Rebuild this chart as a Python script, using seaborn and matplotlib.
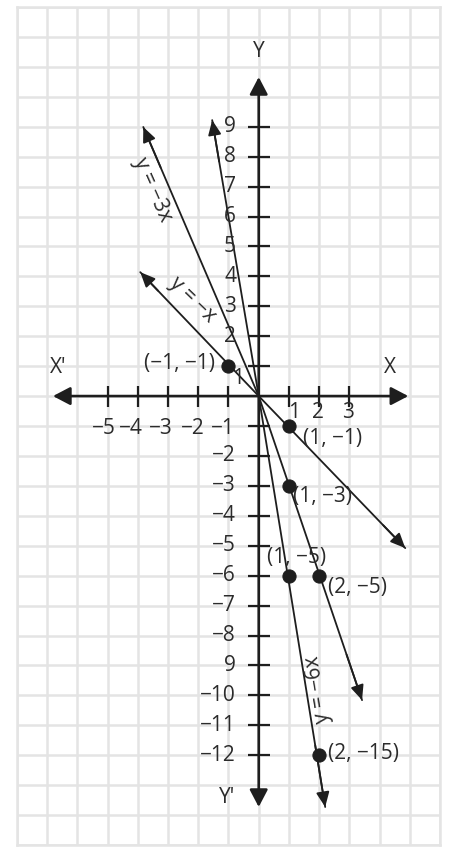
import matplotlib
matplotlib.use("Agg")
import matplotlib.pyplot as plt
import seaborn as sns
import pandas as pd

sns.set_theme(style="white")
plt.rcParams['font.family'] = ['Open Sans', 'DejaVu Sans']

# ---- data ----
line_labels = ["y = −x", "y = −3x", "y = −6x"]
negx_x = [-3.92, 0, 4.85]
negx_y = [4.14, 0, -5.08]
neg3x_x = [-3.82, 0, 3.42]
neg3x_y = [8.99, 0, -10.16]
neg6x_x = [-1.54, 0, 2.2]
neg6x_y = [9.22, 0, -13.73]

dot_x = [-1, 1, 1, 2, 1, 2]
dot_y = [1, -1, -3, -6, -6, -12]
dot_labels = ["(−1, −1)", "(1, −1)", "(1, −3)", "(2, −5)", "(1, −5)", "(2, −15)"]
dot_label_x = [-1.45, 1.47, 1.14, 2.3, 0.28, 2.3]
dot_label_y = [1.1, -1.42, -3.37, -6.4, -5.4, -11.93]
dot_label_ha = ["right", "left", "left", "left", "left", "left"]

xtick_vals = [-5, -4, -3, -2, -1, 1, 2, 3]
xtick_labels_neg = ["−5", "−4", "−3", "−2", "−1"]
xtick_labels_neg_x = [-5.13, -4.23, -3.23, -2.17, -1.17]
xtick_labels_pos = ["1", "2", "3"]
xtick_labels_pos_x = [1.17, 1.97, 2.97]

ytick_vals = [v for v in range(-12, 10) if v != 0]
ytick_labels = {9: "9", 8: "8", 7: "7", 6: "6", 5: "5", 4: "4", 3: "3", 2: "2",
                -2: "−2", -3: "−3", -4: "−4", -5: "−5", -6: "−6", -7: "−7",
                -8: "−8", -9: "9", -10: "−10", -11: "−11", -12: "−12"}

x_axis_ends = [-6.81, 4.95]
y_axis_ends = [-13.73, 10.66]

# ---- figure ----
fig = plt.figure(figsize=(4.56, 8.56), dpi=100)
ax = fig.add_axes([17 / 456, 1 - 845 / 856, (440 - 17) / 456, (845 - 7) / 856])
ax.set_xlim(-8, 6)
ax.set_ylim(-15, 13)
ax.set_xticks(range(-8, 7))
ax.set_yticks(range(-15, 14))
ax.tick_params(length=0, labelbottom=False, labelleft=False)
ax.grid(True, color="#e4e4e4", linewidth=1.8)
for s in ax.spines.values():
    s.set_color("#e4e4e4")
    s.set_linewidth(1.8)
ax.set_axisbelow(True)

ink = "#1e1e1e"
txt = "#2b2b2b"

# axes with arrows
for xy, xytext in [((x_axis_ends[1], 0), (x_axis_ends[0], 0)),
                   ((0, y_axis_ends[1]), (0, y_axis_ends[0]))]:
    ax.annotate("", xy=xy, xytext=xytext,
                arrowprops=dict(arrowstyle="<|-|>,head_length=0.42,head_width=0.22",
                                mutation_scale=25, color=ink, lw=1.9,
                                shrinkA=0, shrinkB=0))

# ticks
ax.hlines(ytick_vals, -0.36, 0.36, color=ink, lw=1.6)
ax.vlines(xtick_vals, -0.35, 0.35, color=ink, lw=1.6)

# lines
for xs, ys in [(negx_x, negx_y), (neg3x_x, neg3x_y), (neg6x_x, neg6x_y)]:
    df = pd.DataFrame({"x": xs, "y": ys})
    sns.lineplot(data=df, x="x", y="y", sort=False, color=ink, lw=1.3,
                 ax=ax, estimator=None)
    for i_tip, i_prev in [(0, 1), (2, 1)]:
        tx, ty = xs[i_tip], ys[i_tip]
        px, py = xs[i_prev], ys[i_prev]
        f = 0.15
        ax.annotate("", xy=(tx, ty), xytext=(tx + (px - tx) * f, ty + (py - ty) * f),
                    arrowprops=dict(arrowstyle="-|>,head_length=0.45,head_width=0.2",
                                    mutation_scale=20, color=ink, lw=1.3,
                                    shrinkA=0, shrinkB=0))

ax.set_xlabel("")
ax.set_ylabel("")

# dots
sns.scatterplot(x=dot_x, y=dot_y, color=ink, s=90, edgecolor=ink, zorder=5, ax=ax)

fs = 15
for t, x, y, ha in zip(dot_labels, dot_label_x, dot_label_y, dot_label_ha):
    ax.text(x, y, t, ha=ha, va="center", fontsize=fs, color=txt)

# tick labels
for t, x in zip(xtick_labels_neg, xtick_labels_neg_x):
    ax.text(x, -1.07, t, ha="center", va="center", fontsize=fs, color=txt)
for t, x in zip(xtick_labels_pos, xtick_labels_pos_x):
    ax.text(x, -0.56, t, ha="center", va="center", fontsize=fs, color=txt)
for v, t in ytick_labels.items():
    ax.text(-0.75, v, t, ha="right", va="center", fontsize=fs, color=txt)
ax.text(-0.5, 0.6, "1", ha="right", va="center", fontsize=fs, color=txt)

# axis names
ax.text(0, 11.5, "Y", ha="center", va="center", fontsize=fs, color=txt)
ax.text(-1.05, -13.4, "Y'", ha="center", va="center", fontsize=fs, color=txt)
ax.text(-6.64, 0.97, "X'", ha="center", va="center", fontsize=fs, color=txt)
ax.text(4.35, 0.97, "X", ha="center", va="center", fontsize=fs, color=txt)

# line labels
ax.text(-2.2, 3.2, line_labels[0], rotation=-44, ha="center", va="center",
        fontsize=fs, color=txt, rotation_mode="anchor")
ax.text(-3.53, 6.88, line_labels[1], rotation=-66, ha="center", va="center",
        fontsize=fs, color=txt, rotation_mode="anchor")
ax.text(1.97, -9.8, line_labels[2], rotation=99.5, ha="center", va="center",
        fontsize=fs, color=txt, rotation_mode="anchor")

fig.savefig("out.png", dpi=100, facecolor="white")
